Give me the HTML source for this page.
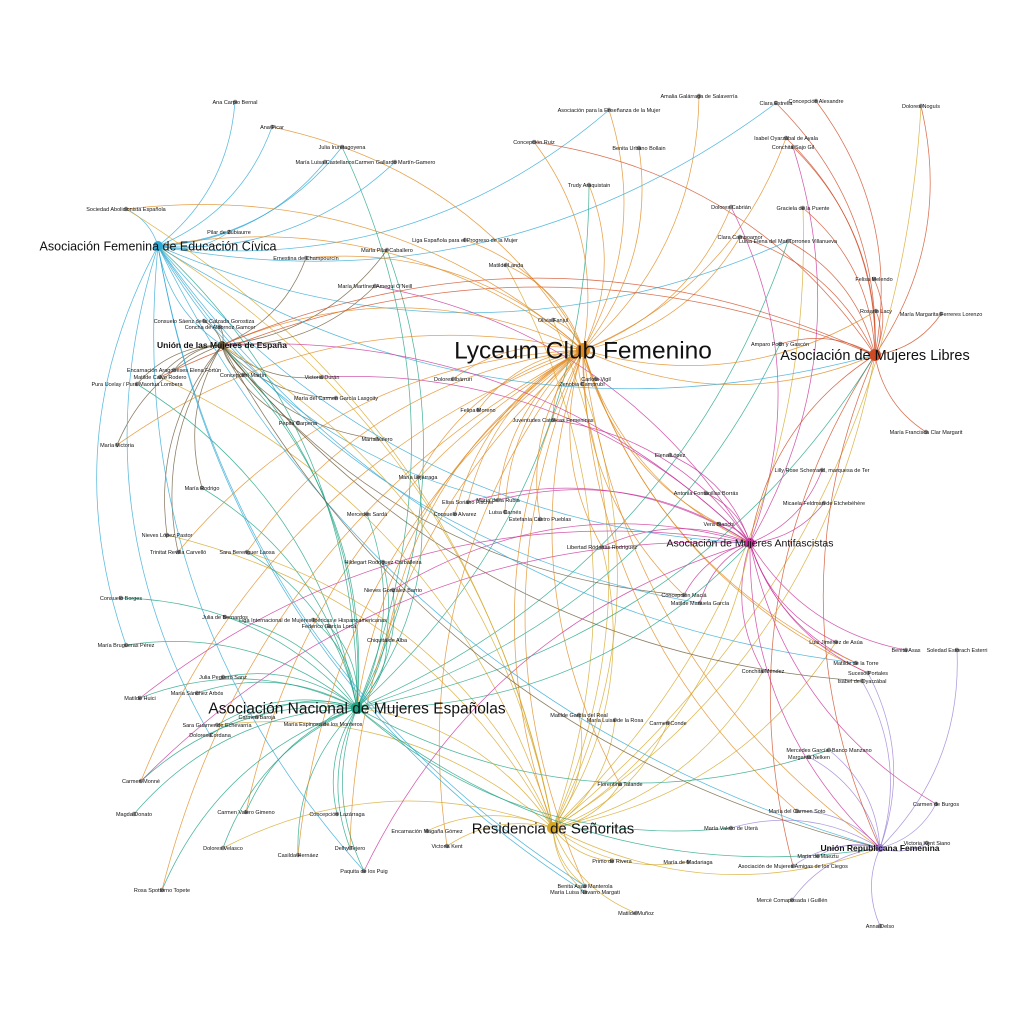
<!DOCTYPE html>
<html><head><meta charset="utf-8"><style>
html,body{margin:0;padding:0;background:#fff;}
svg{display:block;}
text{font-family:"Liberation Sans",sans-serif;fill:#111;}
</style></head><body>
<svg id="g" width="1024" height="1024" viewBox="0 0 1024 1024" xmlns="http://www.w3.org/2000/svg">
<g id="edges" fill="none" stroke-width="0.75" stroke-opacity="0.8"></g>
<g id="nodes"></g>
<g id="labels"></g>
</svg>
<script>
var hubs=[
 {n:"Lyceum Club Femenino",x:583,y:350,c:"#e08a1e",r:7,fs:24.5,w:0.30},
 {n:"Residencia de Señoritas",x:553,y:828,c:"#d4a628",r:6,fs:15,w:0.20},
 {n:"Asociación Nacional de Mujeres Españolas",x:357,y:708,c:"#1fa383",r:6,fs:15.5,w:0.15},
 {n:"Asociación Femenina de Educación Cívica",x:158,y:246,c:"#2fa8d4",r:5,fs:12.5,w:0.12},
 {n:"Asociación de Mujeres Libres",x:875,y:355,c:"#cf4a24",r:6,fs:14.5,w:0.10},
 {n:"Asociación de Mujeres Antifascistas",x:750,y:543,c:"#c8329a",r:5,fs:10.5,w:0.08},
 {n:"Unión de las Mujeres de España",x:222,y:345,c:"#6b5a3a",r:4,fs:8.5,w:0.03,b:1},
 {n:"Unión Republicana Femenina",x:880,y:848,c:"#9a7fd4",r:4,fs:8.5,w:0.02,b:1}
];
var sm=[
["Ana Carpio Bernal",235,102],["Ana Picar",272,127],["Julia Iruretagoyena",342,147],["María Luisa Castellanos",325,162],
["Carmen Gallardo Martín-Gamero",395,162],["Asociación para la Enseñanza de la Mujer",609,110],["Concepción Ruiz",534,142],
["Benita Urbano Bollain",639,148],["Amalia Galárraga de Salaverría",699,96],["Clara Estrella",776,103],["Concepción Alexandre",816,101],
["Dolores Noguís",921,106],["Isabel Oyarzábal de Ayala",786,138],["Conchita Sajo Gil",793,147],["Trudy Araquistain",589,185],
["Dolores Cabrián",731,207],["Graciela de la Puente",803,208],["Sociedad Abolicionista Española",126,209],["Pilar de Zubiaurre",229,232],
["Clara Campoamor",740,237],["Luisa Elena del Mar Torrones Villanueva",788,241],["Liga Española para el Progreso de la Mujer",465,240],
["María Pilar Caballero",387,250],["Ernestina de Champourcín",306,258],["Matilde Landa",506,265],["Felisa Melendo",874,279],
["María Martínez Amegui O'Neill",375,286],["Rosario Lacy",876,311],["María Margarita Ferreres Lorenzo",941,314],
["Consuelo Sáenz de la Calzada Gorostiza",204,321],["Concha de Albornoz Gamcer",220,327],["Olivia Fanjul",553,320],
["Amparo Poch y Gascón",780,344],["Encarnación Aragoneses Elena Fortún",174,370],["Matilde Calvo Rodero",160,377],
["Pura Ucelay / Pura Maortua Lombera",137,384],["Concepción Martín",243,375],["Victoria Durán",322,377],["Dolores Ibárruri",453,379],
["Carlota Vigil",596,379],["Zenobia Camprubí",582,384],["María del Carmen García Lasgoity",336,398],["Felipa Moreno",478,410],
["Juventudes Católicas Femeninas",553,420],["Pepita Carpena",298,423],["María Victoria",117,445],["María Valero",377,439],
["Elena López",670,455],["María Francisca Clar Margarit",926,432],["María Lejárraga",418,477],["Lilly Rose Scherrand, marquesa de Ter",822,470],
["María Rodrigo",202,488],["Antonia Fontanillas Borrás",706,493],["Elisa Soriano Fischer",468,502],["María de la Rubia",498,500],
["Micaela Feldman de Etchebéhère",824,503],["Consuelo Alvarez",455,514],["Mercedes Sardá",367,514],["Luisa Carnés",505,512],
["Estefanía Castro Pueblas",540,519],["Vera Bianchi",719,524],["Nieves López Pastor",167,535],["Trinitat Revilla Carvelló",178,552],
["Sara Berenguer Laosa",247,552],["Libertad Ródenas Rodríguez",602,547],["Hildegart Rodríguez Carballeira",383,562],
["Nieves González Barrio",393,590],["Consuelo Borges",121,598],["Concepción Maciá",684,595],["Matilde Manuela García",700,603],
["Julia de Bernardos",225,617],["Liga Internacional de Mujeres Ibéricas e Hispanoamericanas",313,620],["Federico García Lorca",329,626],
["Chiquita de Alba",387,640],["María Brugueras Pérez",126,645],["Luis Jiménez de Asúa",836,642],["Soledad Estorach Esterri",957,650],
["Benita Asas",906,650],["Matilde de la Torre",856,663],["Suceso Portales",868,673],["Isabel de Oyarzábal",862,681],
["Conchita Méndez",763,671],["Julia Peguero Sanz",223,677],["Matilde Huici",140,698],["María Sánchez Arbós",197,693],
["Carmen Baroja",257,717],["María Espinosa de los Monteros",323,724],["Sara Guarner de Echevarría",217,725],["Dolores Cordana",210,735],
["Matilde García del Real",579,715],["María Luisa de la Rosa",615,720],["Carmen Conde",668,723],["Margarita Nelken",809,757],
["Mercedes García -Banco Manzano",829,750],["Carmen Monné",141,781],["Florentina Talande",620,784],["Magda Donato",134,814],
["Carmen de Burgos",936,804],["María del Carmen Soto",797,811],["Carmen Valero Gimeno",246,812],["María Valero de Uterà",731,828],
["Concepción Lazárraga",337,814],["Dolores Velasco",223,848],["Casilda Hernáez",298,855],["Encarnación Magaña Gómez",427,831],
["Victoria Kent",447,846],["Delhy Tejero",350,848],["Primo de Rivera",612,861],["María de Madariaga",688,862],["María de Maeztu",818,856],
["Asociación de Mujeres Amigas de los Ciegos",793,866],["Paquita de los Puig",364,871],["Benita Asas Manterola",585,886],
["María Luisa Navarro Margati",585,892],["Rosa Spottorno Topete",162,890],["Mercè Comaposada i Guillén",792,900],
["Matilde Muñoz",636,913],["Anna Delso",880,926],["Victoria Kent Siano",927,843]
];
var seed=7;function rnd(){seed=(seed*16807)%2147483647;return seed/2147483647;}
var E=document.getElementById("edges"),N=document.getElementById("nodes"),L=document.getElementById("labels");
var ns="http://www.w3.org/2000/svg";
function arc(x1,y1,x2,y2,c){var mx=(x1+x2)/2,my=(y1+y2)/2,dx=x2-x1,dy=y2-y1,k=0.22;
 var p=document.createElementNS(ns,"path");p.setAttribute("d","M"+x1+","+y1+" Q"+(mx-dy*k)+","+(my+dx*k)+" "+x2+","+y2);
 p.setAttribute("stroke",c);E.appendChild(p);}
function pick(){var r=rnd(),a=0;for(var i=0;i<hubs.length;i++){a+=hubs[i].w;if(r<a)return i;}return 0;}
sm.forEach(function(s){
 var best=0,bd=1e9;hubs.forEach(function(h,i){var d=Math.hypot(h.x-s[1],h.y-s[2]);if(d<bd){bd=d;best=i;}});
 var used={};used[best]=1;arc(hubs[best].x,hubs[best].y,s[1],s[2],hubs[best].c);
 var k=Math.floor(rnd()*2.4);
 for(var j=0;j<k;j++){var h=pick();if(used[h])continue;used[h]=1;arc(hubs[h].x,hubs[h].y,s[1],s[2],hubs[h].c);}
 var c=document.createElementNS(ns,"circle");c.setAttribute("cx",s[1]);c.setAttribute("cy",s[2]);c.setAttribute("r",2.2);c.setAttribute("fill","#8a8a8a");N.appendChild(c);
 var t=document.createElementNS(ns,"text");t.setAttribute("x",s[1]);t.setAttribute("y",s[2]+2);t.setAttribute("font-size","5.5");t.setAttribute("text-anchor","middle");t.textContent=s[0];L.appendChild(t);
});
for(var i=0;i<hubs.length;i++)for(var j=i+1;j<hubs.length;j++){arc(hubs[i].x,hubs[i].y,hubs[j].x,hubs[j].y,hubs[i].c);}
hubs.forEach(function(h){
 var c=document.createElementNS(ns,"circle");c.setAttribute("cx",h.x);c.setAttribute("cy",h.y);c.setAttribute("r",h.r);c.setAttribute("fill",h.c);N.appendChild(c);
 var t=document.createElementNS(ns,"text");t.setAttribute("x",h.x);t.setAttribute("y",h.y+h.fs*0.35);t.setAttribute("font-size",h.fs);t.setAttribute("text-anchor","middle");
 if(h.b)t.setAttribute("font-weight","bold");t.textContent=h.n;L.appendChild(t);
});
</script>
</body></html>
